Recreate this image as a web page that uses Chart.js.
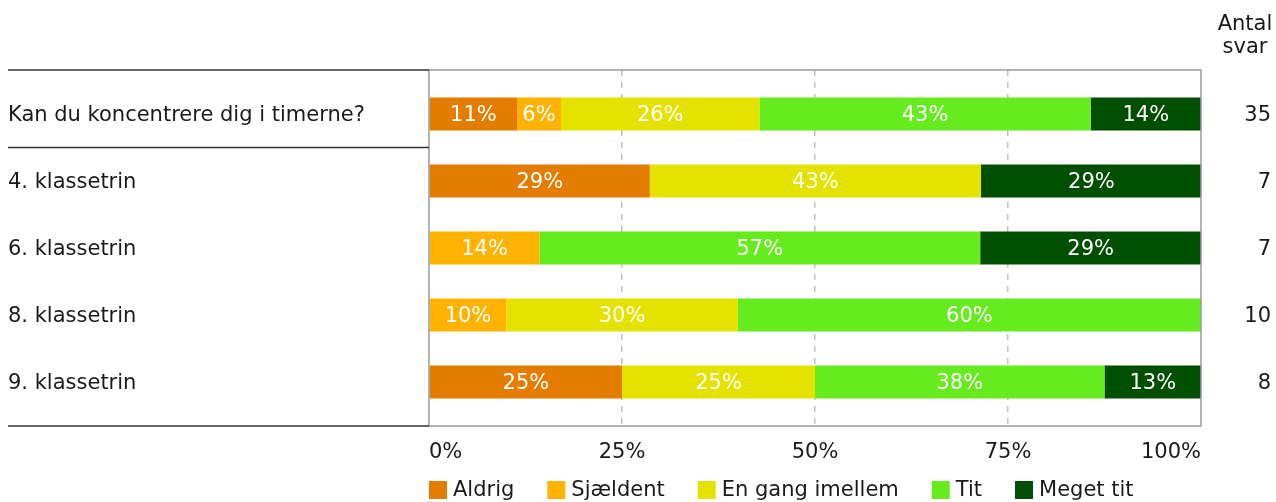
<!DOCTYPE html>
<html>
<head>
<meta charset="utf-8">
<script src="https://cdn.jsdelivr.net/npm/chart.js@4"></script>
<style>
  body { margin: 0; background: #fff; }
  canvas { display: block; }
</style>
</head>
<body>
<canvas id="chart" width="1276" height="502"></canvas>
<script>
const categories = ['Kan du koncentrere dig i timerne?', '4. klassetrin', '6. klassetrin', '8. klassetrin', '9. klassetrin'];
const counts = [35, 7, 7, 10, 8];
const seriesNames = ['Aldrig', 'Sjældent', 'En gang imellem', 'Tit', 'Meget tit'];
const seriesColors = ['#e47c00', '#ffb200', '#e6e200', '#66eb1e', '#004f00'];
const aldrig = [11.4, 28.6, 0, 0, 25];
const sjaeldent = [5.7, 0, 14.3, 10, 0];
const enGang = [25.7, 42.9, 0, 30, 25];
const tit = [42.9, 0, 57.1, 60, 37.5];
const megetTit = [14.3, 28.6, 28.6, 0, 12.5];
const xTicks = [0, 25, 50, 75, 100];

const fontFamily = '"DejaVu Sans", Verdana, sans-serif';
const fontSize = 21;
const textColor = '#1a1a1a';

Chart.defaults.font.family = fontFamily;
Chart.defaults.font.size = fontSize;
Chart.defaults.color = textColor;

const seriesValues = [aldrig, sjaeldent, enGang, tit, megetTit];

// draws percent labels, left separator lines, count column, legend and plot box
const extras = {
  id: 'extras',
  afterDatasetsDraw(chart) {
    const ctx = chart.ctx;
    const area = chart.chartArea;
    const yScale = chart.scales.y;
    ctx.save();
    ctx.font = fontSize + 'px ' + fontFamily;
    ctx.textBaseline = 'middle';
    ctx.textAlign = 'center';
    ctx.fillStyle = '#fff';
    chart.data.datasets.forEach((ds, i) => {
      chart.getDatasetMeta(i).data.forEach((bar, j) => {
        const v = ds.data[j].x;
        if (!v) return;
        const cx = (bar.x + bar.base) / 2;
        ctx.fillText(Math.round(v) + '%', cx, bar.y + 2);
      });
    });
    // plot box
    ctx.strokeStyle = '#9a9a9a';
    ctx.lineWidth = 1.5;
    ctx.strokeRect(area.left, area.top, area.right - area.left, area.bottom - area.top);
    // separator lines on the left
    ctx.strokeStyle = '#333';
    const sepY = [area.top, yScale.getPixelForValue(0.5), area.bottom];
    sepY.forEach(y => {
      ctx.beginPath();
      ctx.moveTo(8, y);
      ctx.lineTo(area.left, y);
      ctx.stroke();
    });
    // count column
    ctx.fillStyle = textColor;
    ctx.textAlign = 'right';
    counts.forEach((c, j) => {
      ctx.fillText(String(c), 1271, yScale.getPixelForValue(j) + 2);
    });
    ctx.textAlign = 'center';
    ctx.fillText('Antal', 1245, 25);
    ctx.fillText('svar', 1245, 48);
    // legend
    let x = area.left;
    ctx.textAlign = 'left';
    seriesNames.forEach((name, i) => {
      ctx.fillStyle = seriesColors[i];
      ctx.fillRect(x, 481, 18, 18);
      ctx.fillStyle = textColor;
      ctx.fillText(name, x + 24, 491);
      x += 24 + ctx.measureText(name).width + 33;
    });
    ctx.restore();
  }
};

new Chart(document.getElementById('chart'), {
  type: 'bar',
  data: {
    datasets: seriesNames.map((name, i) => ({
      label: name,
      data: seriesValues[i].map((v, j) => ({ x: v, y: j })),
      backgroundColor: seriesColors[i],
      borderWidth: 0,
      barPercentage: 0.49,
      categoryPercentage: 1
    }))
  },
  options: {
    indexAxis: 'y',
    responsive: false,
    animation: false,
    devicePixelRatio: 1,
    layout: {
      padding: { left: 8, right: 75, top: 70, bottom: 0 }
    },
    plugins: {
      legend: { display: false },
      tooltip: { enabled: false }
    },
    scales: {
      x: {
        type: 'linear',
        stacked: true,
        min: 0,
        max: 100,
        afterBuildTicks: scale => { scale.ticks = xTicks.map(v => ({ value: v })); },
        grid: {
          drawTicks: false,
          color: c => (c.tick && (c.tick.value === 0 || c.tick.value === 100)) ? 'rgba(0,0,0,0)' : '#c0c0c0',
          lineWidth: 1.5
        },
        border: { display: false, dash: [6, 6] },
        ticks: {
          align: 'inner',
          padding: 14,
          color: textColor,
          callback: v => v + '%'
        },
        afterFit: scale => { scale.height = 76; }
      },
      y: {
        type: 'linear',
        stacked: true,
        reverse: true,
        offset: false,
        min: -0.657,
        max: 4.657,
        afterBuildTicks: scale => { scale.ticks = categories.map((c, j) => ({ value: j })); },
        grid: { display: false, drawTicks: false, offset: false },
        border: { display: false },
        ticks: {
          crossAlign: 'far',
          labelOffset: 2,
          color: textColor,
          callback: v => categories[v]
        },
        afterFit: scale => { scale.width = 421; }
      }
    }
  },
  plugins: [extras]
});
</script>
</body>
</html>
